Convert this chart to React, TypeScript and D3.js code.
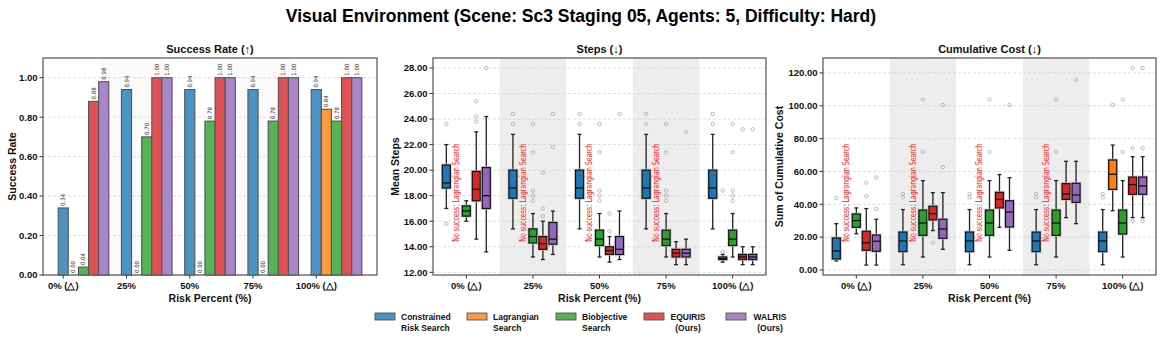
import React from "react";
import * as d3 from "d3";

// categories and methods
const categories = ["0% (△)", "25%", "50%", "75%", "100% (△)"];
const methodLines = [
  ["Constrained", "Risk Search"],
  ["Lagrangian", "Search"],
  ["Biobjective", "Search"],
  ["EQUIRIS", "(Ours)"],
  ["WALRIS", "(Ours)"],
];
const methodColors = ["#1f77b4", "#ff7f0e", "#2ca02c", "#d62728", "#9467bd"];

// success rate per method
const successConstrained = [0.34, 0.94, 0.94, 0.94, 0.94];
const successLagrangian = [0.0, 0.0, 0.0, 0.0, 0.84];
const successBiobjective = [0.04, 0.7, 0.78, 0.78, 0.78];
const successEquiris = [0.88, 1.0, 1.0, 1.0, 1.0];
const successWalris = [0.98, 1.0, 1.0, 1.0, 1.0];

// steps box stats: [whiskerLow, q1, median, q3, whiskerHigh]
type Box = number[] | null;
const stepsConstrained: Box[] = [
  [17.0, 18.6, 19.0, 20.4, 22.0],
  [15.4, 17.8, 18.6, 20.0, 22.8],
  [15.4, 17.8, 18.6, 20.0, 22.8],
  [15.4, 17.8, 18.6, 20.0, 22.8],
  [15.4, 17.8, 18.6, 20.0, 22.8],
];
const stepsLagrangian: Box[] = [null, null, null, null, [12.8, 13.0, 13.1, 13.2, 13.4]];
const stepsBiobjective: Box[] = [
  [16.0, 16.4, 16.8, 17.2, 17.6],
  [13.2, 14.3, 14.8, 15.4, 16.6],
  [13.2, 14.1, 14.6, 15.3, 16.6],
  [13.2, 14.1, 14.6, 15.3, 16.6],
  [13.2, 14.1, 14.6, 15.3, 16.6],
];
const stepsEquiris: Box[] = [
  [14.6, 17.6, 18.5, 19.9, 23.0],
  [13.0, 13.8, 14.25, 14.8, 16.0],
  [12.8, 13.4, 13.7, 14.0, 14.8],
  [12.6, 13.2, 13.5, 13.8, 14.4],
  [12.6, 13.0, 13.2, 13.4, 14.0],
];
const stepsWalris: Box[] = [
  [13.6, 17.0, 18.0, 20.2, 24.2],
  [13.4, 14.2, 14.6, 15.9, 16.8],
  [13.0, 13.4, 13.8, 14.8, 16.8],
  [12.6, 13.2, 13.5, 13.8, 14.6],
  [12.6, 13.0, 13.2, 13.4, 14.0],
];
const stepsOutConstrained = [[23.6, 15.8], [24.4, 23.6], [24.4, 23.6], [24.4, 23.6], [24.4, 23.6]];
const stepsOutLagrangian = [[], [], [], [], [13.6, 18.4]];
const stepsOutBiobjective = [
  [],
  [23.6, 21.4, 18.4, 18.0, 17.6],
  [23.6, 21.4, 18.4, 18.0, 17.6],
  [23.6, 21.4, 18.4, 18.0, 17.6],
  [23.6, 21.4, 18.4, 18.0, 17.6],
];
const stepsOutEquiris = [[25.4, 24.2, 23.8], [19.8, 17.0, 16.4], [16.6, 15.2], [], [23.2]];
const stepsOutWalris = [[28.0], [24.4, 21.8], [24.4], [23.0], [23.2]];
const stepsTicks = [12, 14, 16, 18, 20, 22, 24, 26, 28];

// cumulative cost box stats
const costConstrained: Box[] = [
  [5.5, 6.7, 11.6, 19.5, 28.2],
  [3.2, 11.2, 17.7, 23.1, 36.8],
  [3.2, 11.2, 17.7, 23.1, 36.8],
  [3.2, 11.2, 17.7, 23.1, 36.8],
  [3.2, 11.2, 17.7, 23.1, 36.8],
];
const costLagrangian: Box[] = [null, null, null, null, [36.1, 49.1, 58.3, 67.0, 76.1]];
const costBiobjective: Box[] = [
  [22.1, 26.0, 30.1, 34.1, 37.8],
  [7.9, 21.1, 28.6, 36.5, 54.4],
  [7.9, 21.1, 28.6, 36.5, 54.4],
  [7.9, 21.1, 28.6, 36.5, 54.4],
  [7.9, 21.9, 28.6, 36.5, 54.4],
];
const costEquiris: Box[] = [
  [3.0, 12.0, 16.6, 23.6, 37.4],
  [24.0, 30.5, 34.3, 38.8, 47.1],
  [26.0, 37.8, 43.0, 47.3, 58.1],
  [31.9, 43.0, 46.3, 52.6, 66.2],
  [31.9, 46.1, 52.0, 56.6, 69.0],
];
const costWalris: Box[] = [
  [3.0, 11.4, 17.5, 21.3, 30.9],
  [12.6, 19.3, 25.0, 30.9, 47.1],
  [12.0, 26.2, 35.3, 42.2, 56.2],
  [28.2, 41.2, 45.7, 52.8, 66.2],
  [31.9, 46.1, 51.2, 56.6, 69.0],
];
const costOutConstrained = [[43.9], [46.3, 44.3], [46.3, 44.3], [46.3, 44.3], [46.3, 44.3]];
const costOutLagrangian = [[], [], [], [], [100.5]];
const costOutBiobjective = [[], [103.8, 71.9], [103.8, 71.9], [103.8, 71.9], [103.8, 71.9]];
const costOutEquiris = [[53.2, 44.9], [16.6], [], [], [123.0, 74.1, 29.8]];
const costOutWalris = [[56.4, 37.2], [100.5, 62.7], [100.5], [115.7], [123.0, 74.1, 29.8]];
const costTicks = [0, 20, 40, 60, 80, 100, 120];

const successTicks = [0, 0.2, 0.4, 0.6, 0.8, 1.0];

const FONT = "'Liberation Sans', Arial, sans-serif";
const NARROW = "'Liberation Sans Narrow', 'DejaVu Sans Condensed', sans-serif";
const TOP = 58;
const BOTTOM = 275;
const fmt = d3.format(".2f");

const light = (c: string, a = 0.8) => d3.interpolateRgb("#ffffff", c)(a);

function Frame({ left, right, title, ylabel, yscale, ticks, xscale, labelGap }: any) {
  return (
    <g>
      {ticks.map((t: number) => (
        <g key={t}>
          <line x1={left} x2={right} y1={yscale(t)} y2={yscale(t)} stroke="#cfcfcf" strokeWidth={0.7} strokeDasharray="3,2" />
          <line x1={left - 3.5} x2={left} y1={yscale(t)} y2={yscale(t)} stroke="#333" strokeWidth={1} />
          <text x={left - 5.5} y={yscale(t)} dy="0.35em" textAnchor="end" fontSize={9.5} fontWeight="bold" fontFamily={FONT} fill="#111">
            {fmt(t)}
          </text>
        </g>
      ))}
      {categories.map((c, i) => (
        <g key={c}>
          <line x1={xscale(i)} x2={xscale(i)} y1={BOTTOM} y2={BOTTOM + 3.5} stroke="#333" strokeWidth={1} />
          <text x={xscale(i)} y={BOTTOM + 14} textAnchor="middle" fontSize={9.5} fontWeight="bold" fontFamily={FONT} fill="#111">
            {c}
          </text>
        </g>
      ))}
      <rect x={left} y={TOP} width={right - left} height={BOTTOM - TOP} fill="none" stroke="#444" strokeWidth={1.1} />
      <text x={(left + right) / 2} y={TOP - 5} textAnchor="middle" fontSize={11} fontWeight="bold" fontFamily={FONT} fill="#111">
        {title}
      </text>
      <text x={(left + right) / 2} y={BOTTOM + 27} textAnchor="middle" fontSize={10.5} fontWeight="bold" fontFamily={FONT} fill="#111">
        Risk Percent (%)
      </text>
      <text transform={`translate(${left - labelGap},${(TOP + BOTTOM) / 2}) rotate(-90)`} textAnchor="middle" dy="0.35em" fontSize={10.5} fontWeight="bold" fontFamily={FONT} fill="#111">
        {ylabel}
      </text>
    </g>
  );
}

function BarPanel({ left, right }: { left: number; right: number }) {
  const series = [successConstrained, successLagrangian, successBiobjective, successEquiris, successWalris];
  const bw = 0.16;
  const x = d3.scaleLinear().domain([-0.32, 4.96]).range([left, right]);
  const y = d3.scaleLinear().domain([0, 1.1]).range([BOTTOM, TOP]);
  return (
    <g>
      {[1, 3].map((i) => (
        <rect key={i} x={x(i - 0.4)} y={TOP} width={x(i + 0.6) - x(i - 0.4)} height={BOTTOM - TOP} fill="#f6f6f6" opacity={0.6} />
      ))}
      <Frame left={left} right={right} title="Success Rate (↑)" ylabel="Success Rate" yscale={y} ticks={successTicks} xscale={x} labelGap={31} />
      {series.map((vals, k) =>
        vals.map((v, i) => {
          const cx = x(i + k * bw);
          const w = x(bw) - x(0);
          return (
            <g key={`${k}-${i}`}>
              <rect x={cx - w / 2} y={y(v)} width={w} height={BOTTOM - y(v)} fill={light(methodColors[k])} stroke="#555" strokeWidth={1.1} />
              <text transform={`translate(${cx + 2},${y(v) - 2}) rotate(-90)`} fontSize={6} fontFamily={NARROW} fill="#333">
                {fmt(v)}
              </text>
            </g>
          );
        })
      )}
    </g>
  );
}

function BoxPanel({ left, right, title, ylabel, domain, ticks, stats, outliers, labelGap }: any) {
  const x = d3.scaleLinear().domain([-0.5, 4.5]).range([left, right]);
  const y = d3.scaleLinear().domain(domain).range([BOTTOM, TOP]);
  const offsets = [-0.3, -0.15, 0, 0.15, 0.3];
  const bw = x(0.12) - x(0);
  return (
    <g>
      {[1, 3].map((i) => (
        <rect key={i} x={x(i - 0.5)} y={TOP} width={x(i + 0.5) - x(i - 0.5)} height={BOTTOM - TOP} fill="#ededed" />
      ))}
      <Frame left={left} right={right} title={title} ylabel={ylabel} yscale={y} ticks={ticks} xscale={x} labelGap={labelGap} />
      {stats.map((arr: Box[], k: number) =>
        arr.map((b, i) => {
          const cx = x(i + offsets[k]);
          if (!b) {
            return (
              <text key={`${k}-${i}`} transform={`translate(${cx},${BOTTOM - 0.153 * (BOTTOM - TOP)}) rotate(-90)`} dy="0.35em" fontSize={8} fontFamily={NARROW} fill="#ff2020" textLength={98} lengthAdjust="spacingAndGlyphs">
                No success: Lagrangian Search
              </text>
            );
          }
          const [lo, q1, med, q3, hi] = b;
          return (
            <g key={`${k}-${i}`}>
              <line x1={cx} x2={cx} y1={y(hi)} y2={y(q3)} stroke="#222" strokeWidth={1.3} />
              <line x1={cx} x2={cx} y1={y(q1)} y2={y(lo)} stroke="#222" strokeWidth={1.3} />
              <line x1={cx - bw / 4} x2={cx + bw / 4} y1={y(hi)} y2={y(hi)} stroke="#222" strokeWidth={1.3} />
              <line x1={cx - bw / 4} x2={cx + bw / 4} y1={y(lo)} y2={y(lo)} stroke="#222" strokeWidth={1.3} />
              <rect x={cx - bw / 2} y={y(q3)} width={bw} height={y(q1) - y(q3)} fill="none" stroke="#bbb" strokeWidth={3} opacity={0.7} />
              <rect x={cx - bw / 2} y={y(q3)} width={bw} height={y(q1) - y(q3)} fill={methodColors[k]} stroke="#111" strokeWidth={1.2} />
              <line x1={cx - bw / 2} x2={cx + bw / 2} y1={y(med)} y2={y(med)} stroke="#111" strokeWidth={1.3} />
              {outliers[k][i].map((o: number, j: number) => (
                <circle key={j} cx={cx} cy={y(o)} r={1.7} fill="none" stroke="#aaa" strokeWidth={0.8} />
              ))}
            </g>
          );
        })
      )}
    </g>
  );
}

function Legend() {
  const xs = d3.scaleOrdinal<number, number>().domain([0, 1, 2, 3, 4]).range([375, 467, 556, 644, 726]);
  const centered = [false, false, false, true, true];
  return (
    <g>
      {methodLines.map((lines, k) => {
        const px = xs(k);
        const tx = px + 26;
        const anchorX = centered[k] ? tx + 18 : tx;
        return (
          <g key={k}>
            <rect x={px} y={313} width={20} height={7} fill={light(methodColors[k])} stroke="#555" strokeWidth={0.9} />
            {lines.map((l, j) => (
              <text key={j} x={anchorX} y={320 + j * 11} textAnchor={centered[k] ? "middle" : "start"} fontSize={8.5} fontWeight="bold" fontFamily={FONT} fill="#111">
                {l}
              </text>
            ))}
          </g>
        );
      })}
    </g>
  );
}

export default function App() {
  return (
    <svg width={1162} height={343} style={{ position: "absolute", left: 0, top: 0, background: "#fff" }}>
      <rect width={1162} height={343} fill="#fff" />
      <text x={581} y={22} textAnchor="middle" fontSize={17.5} fontWeight="bold" fontFamily={FONT} fill="#000">
        Visual Environment (Scene: Sc3 Staging 05, Agents: 5, Difficulty: Hard)
      </text>
      <BarPanel left={43} right={377} />
      <BoxPanel
        left={433}
        right={766}
        title="Steps (↓)"
        ylabel="Mean Steps"
        domain={[11.79, 28.78]}
        ticks={stepsTicks}
        stats={[stepsConstrained, stepsLagrangian, stepsBiobjective, stepsEquiris, stepsWalris]}
        outliers={[stepsOutConstrained, stepsOutLagrangian, stepsOutBiobjective, stepsOutEquiris, stepsOutWalris]}
        labelGap={38}
      />
      <BoxPanel
        left={823}
        right={1156}
        title="Cumulative Cost (↓)"
        ylabel="Sum of Cumulative Cost"
        domain={[-3.05, 129.1]}
        ticks={costTicks}
        stats={[costConstrained, costLagrangian, costBiobjective, costEquiris, costWalris]}
        outliers={[costOutConstrained, costOutLagrangian, costOutBiobjective, costOutEquiris, costOutWalris]}
        labelGap={44}
      />
      <Legend />
    </svg>
  );
}
